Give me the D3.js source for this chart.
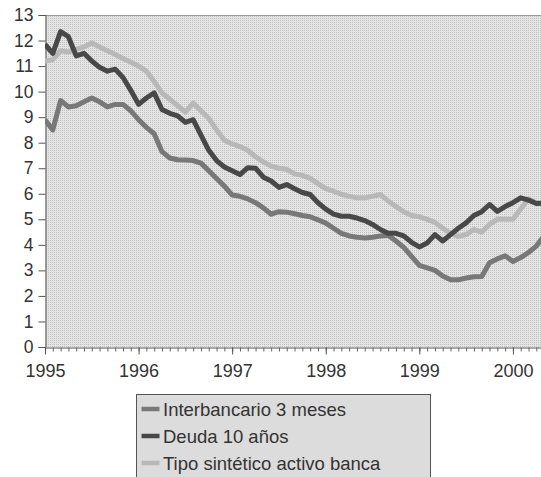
<!DOCTYPE html>
<html>
<head>
<meta charset="utf-8">
<script src="https://cdn.jsdelivr.net/npm/d3@7"></script>
<style>
  html, body { margin: 0; padding: 0; background: #fff; }
  svg { display: block; }
  text { font-family: "Liberation Sans", Arial, sans-serif; fill: #333; }
</style>
</head>
<body>
<svg id="chart" width="541" height="477"></svg>
<script>
// Monthly series, January 1995 onwards (percent)
const startYear = 1995;
const interbancario = [8.9, 8.5, 9.65, 9.4, 9.45, 9.6, 9.75, 9.6, 9.4, 9.5, 9.5, 9.25,
  8.9, 8.6, 8.35, 7.65, 7.4, 7.33, 7.32, 7.3, 7.2, 6.9, 6.6, 6.3,
  5.95, 5.9, 5.8, 5.65, 5.45, 5.2, 5.3, 5.28, 5.22, 5.15, 5.1, 4.98,
  4.85, 4.65, 4.45, 4.35, 4.3, 4.27, 4.3, 4.35, 4.38, 4.15, 3.9, 3.55,
  3.2, 3.1, 3.0, 2.78, 2.63, 2.63, 2.7, 2.75, 2.76, 3.3, 3.45, 3.57,
  3.35, 3.5, 3.7, 3.95, 4.35];
const deuda10 = [11.85, 11.5, 12.35, 12.15, 11.4, 11.5, 11.2, 10.95, 10.8, 10.88, 10.55, 10.05,
  9.5, 9.75, 9.95, 9.3, 9.15, 9.05, 8.8, 8.9, 8.3, 7.7, 7.3, 7.05,
  6.9, 6.75, 7.02, 7.0, 6.65, 6.5, 6.25, 6.36, 6.2, 6.05, 5.97, 5.65,
  5.4, 5.2, 5.12, 5.12, 5.05, 4.95, 4.8, 4.6, 4.45, 4.45, 4.35, 4.1,
  3.92, 4.07, 4.4, 4.15, 4.4, 4.65, 4.86, 5.15, 5.3, 5.58, 5.31, 5.5,
  5.65, 5.84, 5.75, 5.62, 5.64];
const tipoSintetico = [11.2, 11.25, 11.6, 11.55, 11.65, 11.75, 11.9, 11.75, 11.6, 11.45, 11.3, 11.15,
  11.0, 10.8, 10.4, 9.95, 9.7, 9.45, 9.2, 9.55, 9.25, 8.95, 8.5, 8.1,
  7.95, 7.85, 7.7, 7.45, 7.25, 7.08, 7.0, 6.95, 6.78, 6.72, 6.6, 6.4,
  6.2, 6.1, 5.98, 5.9, 5.84, 5.84, 5.9, 5.97, 5.72, 5.5, 5.3, 5.15,
  5.1, 5.0, 4.88, 4.65, 4.45, 4.33, 4.4, 4.6, 4.5, 4.8, 5.0, 5.0,
  5.0, 5.4, 5.8, 5.65, 5.55];

const seriesNames = ["Interbancario 3 meses", "Deuda 10 años", "Tipo sintético activo banca"];
const yearLabels = ["1995", "1996", "1997", "1998", "1999", "2000"];
const yTickValues = [0, 1, 2, 3, 4, 5, 6, 7, 8, 9, 10, 11, 12, 13];

const series = [
  { name: seriesNames[0], values: interbancario, color: "#787878" },
  { name: seriesNames[2], values: tipoSintetico, color: "#b8b8b8" },
  { name: seriesNames[1], values: deuda10, color: "#484848" }
];
const legendOrder = [series[0], series[2], series[1]];

const svg = d3.select("#chart");
const plotLeft = 45, plotRight = 541, plotTop = 15, plotBottom = 347;

const x = d3.scaleLinear().domain([startYear, 2000 + 3.6 / 12]).range([plotLeft, plotRight]);
const y = d3.scaleLinear().domain([0, 13]).range([plotBottom, plotTop]);

// Halftone-like fill for plot area and legend
const defs = svg.append("defs");
const pat = defs.append("pattern").attr("id", "dots")
  .attr("width", 2).attr("height", 2).attr("patternUnits", "userSpaceOnUse");
pat.append("rect").attr("width", 2).attr("height", 2).attr("fill", "#e4e4e4");
pat.append("rect").attr("width", 1).attr("height", 1).attr("fill", "#c2c2c2");

defs.append("clipPath").attr("id", "plotClip")
  .append("rect").attr("x", plotLeft).attr("y", plotTop - 5)
  .attr("width", plotRight - plotLeft).attr("height", plotBottom - plotTop + 10);

svg.append("rect").attr("x", plotLeft).attr("y", plotTop)
  .attr("width", plotRight - plotLeft).attr("height", plotBottom - plotTop)
  .attr("fill", "url(#dots)");
svg.append("line").attr("x1", plotLeft).attr("x2", plotRight)
  .attr("y1", plotTop + 0.5).attr("y2", plotTop + 0.5)
  .attr("stroke", "#999").attr("stroke-width", 1);

// Y axis
const yAxis = d3.axisLeft(y).tickValues(yTickValues).tickSize(7).tickPadding(5).tickFormat(d3.format("d"));
const gy = svg.append("g").attr("transform", `translate(${plotLeft + 0.5},0)`).call(yAxis);
gy.select(".domain").attr("stroke", "#555");
gy.selectAll(".tick line").attr("stroke", "#555");
gy.selectAll(".tick text").style("font-size", "17.5px").style("fill", "#333").attr("font-family", null);

// X axis: monthly minor ticks, yearly labels
const monthTicks = d3.range(0, 65).map(m => startYear + m / 12).filter(v => x(v) <= plotRight);
const gxMinor = svg.append("g").attr("transform", `translate(0,${plotBottom + 0.5})`)
  .call(d3.axisBottom(x).tickValues(monthTicks).tickSize(4).tickFormat(""));
gxMinor.select(".domain").attr("stroke", "#555");
gxMinor.selectAll(".tick line").attr("stroke", "#666");

const yearTicks = yearLabels.map(Number);
const gx = svg.append("g").attr("transform", `translate(0,${plotBottom + 0.5})`)
  .call(d3.axisBottom(x).tickValues(yearTicks).tickSize(7).tickPadding(9.5).tickFormat((d, i) => yearLabels[i]));
gx.select(".domain").remove();
gx.selectAll(".tick line").attr("stroke", "#555");
gx.selectAll(".tick text").style("font-size", "18px").style("fill", "#333").attr("font-family", null);

// Series lines
const line = d3.line()
  .x((d, i) => x(startYear + i / 12))
  .y(d => y(d));
const plot = svg.append("g").attr("clip-path", "url(#plotClip)");
series.forEach(s => {
  plot.append("path").datum(s.values)
    .attr("d", line)
    .attr("fill", "none")
    .attr("stroke", s.color)
    .attr("stroke-width", 5)
    .attr("stroke-linejoin", "round");
});

// Legend
const lg = svg.append("g").attr("transform", "translate(136.5,394.5)");
lg.append("rect").attr("width", 294).attr("height", 90)
  .attr("fill", "url(#dots)").attr("stroke", "#555").attr("stroke-width", 1);
legendOrder.forEach((s, i) => {
  const cy = 14.5 + i * 27;
  lg.append("line").attr("x1", 5).attr("x2", 23).attr("y1", cy).attr("y2", cy)
    .attr("stroke", s.color).attr("stroke-width", 4.5);
  lg.append("text").attr("x", 26.5).attr("y", cy).attr("dy", "0.36em")
    .style("font-size", "18.5px").text(s.name);
});
</script>
</body>
</html>
